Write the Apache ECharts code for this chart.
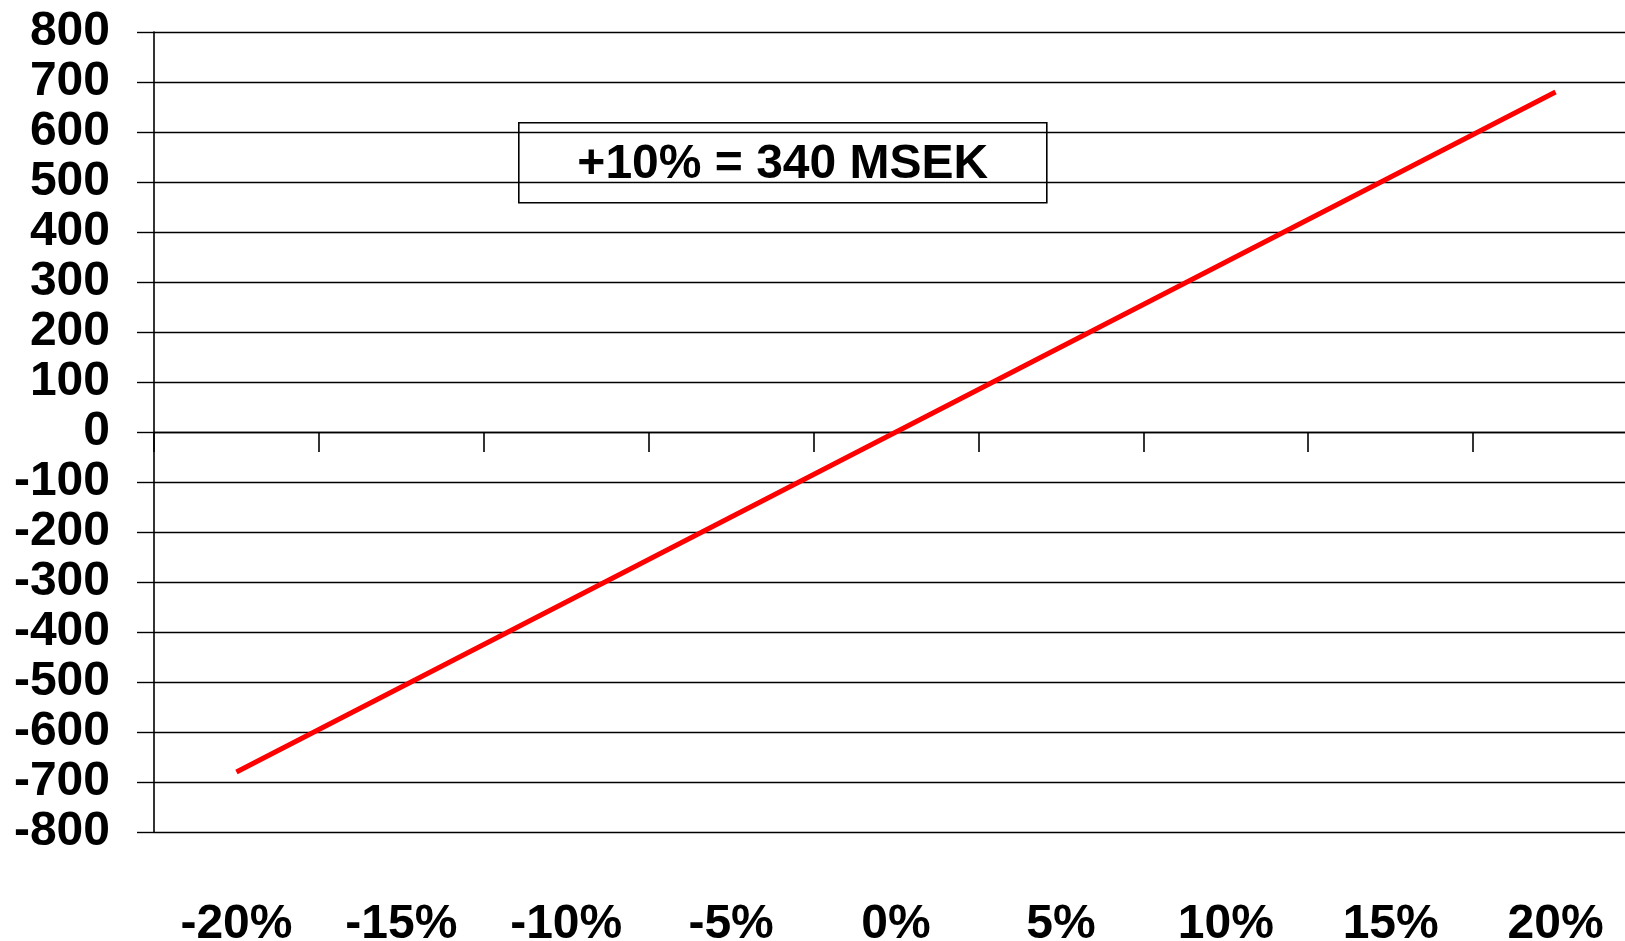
<!DOCTYPE html>
<html>
<head>
<meta charset="utf-8">
<script src="https://cdn.jsdelivr.net/npm/echarts@6/dist/echarts.min.js"></script>
<style>
  html, body { margin: 0; padding: 0; background: #fff; }
  #chart { width: 1625px; height: 941px; }
</style>
</head>
<body>
<div id="chart"></div>
<script>
// Change in price (%) along the x axis
const categories = ['-20%', '-15%', '-10%', '-5%', '0%', '5%', '10%', '15%', '20%'];
// Effect on result, MSEK
const resultEffect = [-680, -510, -340, -170, 0, 170, 340, 510, 680];
// Value axis range and step
const yMin = -800;
const yMax = 800;
const yStep = 100;
// Boxed note
const noteText = '+10% = 340 MSEK';

const FONT = '"Liberation Sans", Arial, Helvetica, sans-serif';

const chart = echarts.init(document.getElementById('chart'), null, { renderer: 'canvas' });

chart.setOption({
  backgroundColor: '#ffffff',
  animation: false,
  grid: {
    left: 154, top: 32, right: -13, bottom: 109,
    containLabel: false,
    outerBoundsMode: 'none'
  },
  xAxis: [
    {
      // tick marks hanging below the zero line
      type: 'category',
      data: categories,
      boundaryGap: true,
      position: 'bottom',
      axisLine: { show: true, onZero: true, lineStyle: { color: '#000', width: 1.4 } },
      axisTick: { show: true, length: 20, lineStyle: { color: '#000', width: 1.6 } },
      axisLabel: { show: false },
      splitLine: { show: false }
    },
    {
      // percentage labels along the bottom
      type: 'category',
      data: categories,
      boundaryGap: true,
      position: 'bottom',
      axisLine: { show: false, onZero: false },
      axisTick: { show: false },
      splitLine: { show: false },
      axisLabel: {
        show: true,
        margin: 69,
        color: '#000',
        fontFamily: FONT,
        fontWeight: 'bold',
        fontSize: 48
      }
    }
  ],
  yAxis: {
    type: 'value',
    min: yMin,
    max: yMax,
    interval: yStep,
    axisLine: { show: true, lineStyle: { color: '#000', width: 1.6 } },
    axisTick: { show: true, length: 17, lineStyle: { color: '#000', width: 1.4 } },
    splitLine: { show: true, lineStyle: { color: '#000', width: 1.4 } },
    axisLabel: {
      margin: 44,
      color: '#000',
      fontFamily: FONT,
      fontWeight: 'bold',
      fontSize: 48,
      padding: [0, 0, 8, 0]
    }
  },
  series: [
    {
      type: 'line',
      xAxisIndex: 0,
      data: resultEffect,
      showSymbol: false,
      symbol: 'none',
      z: 5,
      lineStyle: { color: '#ff0000', width: 5, cap: 'butt' }
    }
  ],
  graphic: [
    {
      type: 'group',
      left: 518,
      top: 122,
      z: 100,
      children: [
        {
          type: 'rect',
          shape: { x: 0, y: 0, width: 528, height: 80 },
          style: { fill: '#ffffff', stroke: '#000', lineWidth: 1.6 }
        },
        {
          type: 'text',
          x: 264,
          y: 42,
          style: {
            text: noteText,
            fill: '#000',
            font: 'bold 48px ' + FONT,
            align: 'center',
            verticalAlign: 'middle'
          }
        }
      ]
    }
  ]
});
</script>
</body>
</html>
